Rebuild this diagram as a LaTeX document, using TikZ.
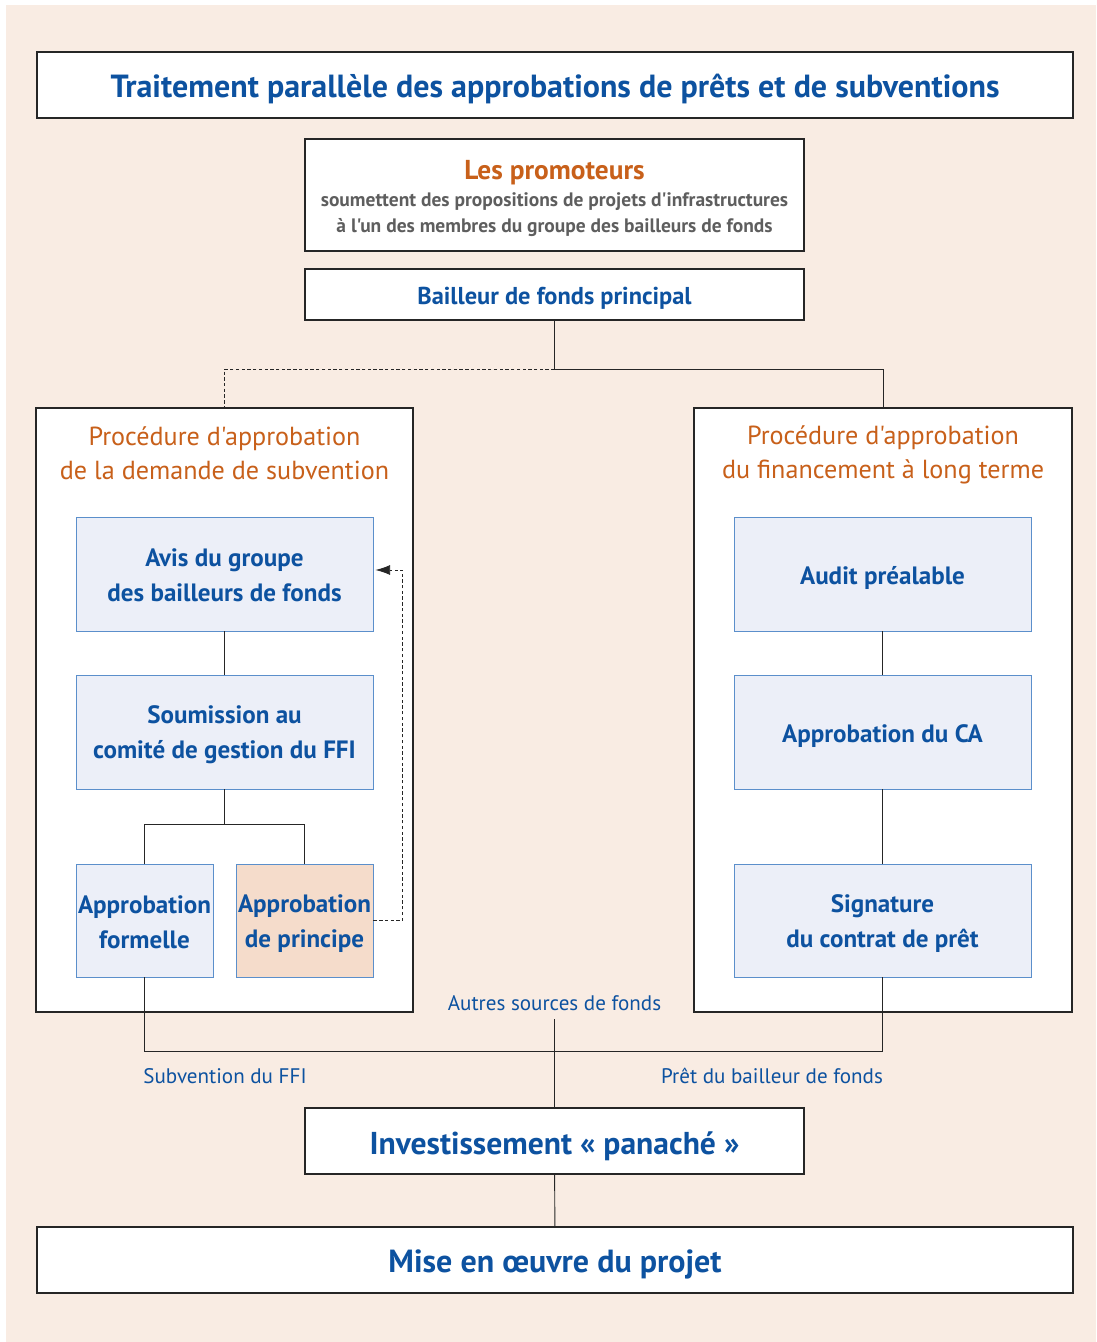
\documentclass[tikz,border=0pt]{standalone}
\usepackage{fontspec}
\setmainfont{PT Sans}[Ligatures=TeXOff]
\usetikzlibrary{arrows.meta}
\definecolor{fondbeige}{HTML}{F9ECE3}
\definecolor{bleutexte}{HTML}{0D52A0}
\definecolor{orangetexte}{HTML}{C8601A}
\definecolor{grisbleu}{HTML}{5E5E5E}
\definecolor{bleupale}{HTML}{ECEFF8}
\definecolor{bleucadre}{HTML}{5B8FCB}
\definecolor{peche}{HTML}{F5DCCB}
\tikzset{
  cadre/.style={draw=black!85,line width=0.9pt,fill=white,inner sep=0pt},
  etape/.style={draw=bleucadre,line width=0.7pt,fill=bleupale,inner sep=0pt},
  etapetexte/.style={text=bleutexte,align=center,inner sep=0pt,
    font=\bfseries\fontsize{18.8}{26}\selectfont},
  procedure/.style={text=orangetexte,align=center,font=\fontsize{19.6}{25.5}\selectfont},
  flux/.style={text=bleutexte,font=\fontsize{15.8}{19}\selectfont},
  lien/.style={draw=black!85,line width=0.7pt},
  pointille/.style={lien,line width=0.6pt,dash pattern=on 2.5pt off 1.8pt},
}
\begin{document}
\begin{tikzpicture}[x=0.75pt,y=-0.75pt]
\useasboundingbox (0,0) rectangle (1096,1342);
\fill[fondbeige] (6,5) rectangle (1096,1342);
% en-tete
\node[cadre,minimum width=777pt,minimum height=49.5pt] (titre) at (555,85) {};
\node[text=bleutexte,font=\bfseries\fontsize{24}{28}\selectfont] (titretexte) at (555,89)
  {Traitement parallèle des approbations de prêts et de subventions};
\node[cadre,minimum width=374.25pt,minimum height=84pt] (promo) at (554.5,195) {};
\node[text=orangetexte,font=\bfseries\fontsize{20.5}{24}\selectfont] (promotitre) at (554.5,173) {Les promoteurs};
\node[text=grisbleu,align=center,font=\bfseries\fontsize{14.6}{19.5}\selectfont] (promotexte) at (554.5,215)
  {soumettent des propositions de projets d'infrastructures\\à l'un des membres du groupe des bailleurs de fonds};
\node[cadre,minimum width=374.25pt,minimum height=38.25pt] (bailleur) at (554.5,294.5) {};
\node[text=bleutexte,font=\bfseries\fontsize{18.3}{22}\selectfont] (bailleurtexte) at (554.5,298.5) {Bailleur de fonds principal};
% les deux procedures
\node[cadre,minimum width=282.75pt,minimum height=453pt] (gauche) at (224.5,710) {};
\node[cadre,minimum width=283.5pt,minimum height=453pt] (droite) at (883,710) {};
\node[procedure] (gauchetitre) at (224.5,453) {Procédure d'approbation\\de la demande de subvention};
\node[procedure] (droitetitre) at (883,455) {Procédure d'approbation\\du financement à long terme};
\coordinate (fourche) at (554.5,369);
\draw[lien] (bailleur) -- (fourche) -| (droite.north);
\draw[pointille] (fourche) -| (gauche.north);
% subvention
\node[etape,minimum width=222.75pt,minimum height=85.5pt] (avis) at (224.5,574) {};
\node[etape,minimum width=222.75pt,minimum height=85.5pt] (soumission) at (224.5,732) {};
\node[etape,minimum width=102.75pt,minimum height=84.75pt] (formelle) at (144.5,920.5) {};
\node[etape,fill=peche,minimum width=102.75pt,minimum height=84.75pt] (principe) at (304.5,920.5) {};
\node[etapetexte] (avistexte) at (224.5,575.5) {Avis du groupe\\des bailleurs de fonds};
\node[etapetexte] (soumissiontexte) at (224.5,735) {Soumission au\\comité de gestion du FFI};
\node[etapetexte] (formelletexte) at (144.5,922.5) {Approbation\\formelle};
\node[etapetexte] (principetexte) at (304.5,923.5) {Approbation\\de principe};
\draw[lien] (avis) -- (soumission);
\draw[lien] (soumission.south) -- ++(0,35) coordinate (branche);
\draw[lien] (formelle.north) |- (branche) -| (principe.north);
\draw[pointille,-{Latex[length=11pt,width=7.5pt]}]
  (principe.east) -- ++(29,0) |- ([shift={(2,-4)}]avis.east);
% pret
\node[etape,minimum width=222.75pt,minimum height=85.5pt] (audit) at (882.5,574) {};
\node[etape,minimum width=222.75pt,minimum height=85.5pt] (ca) at (882.5,732) {};
\node[etape,minimum width=222.75pt,minimum height=84.75pt] (signature) at (882.5,920.5) {};
\node[etapetexte] (audittexte) at (882.5,578) {Audit préalable};
\node[etapetexte] (catexte) at (882.5,736) {Approbation du CA};
\node[etapetexte] (signaturetexte) at (882.5,923.5) {Signature\\du contrat de prêt};
\draw[lien] (audit) -- (ca) -- (signature);
% sources de fonds
\node[flux] (autres) at (554.5,1003) {Autres sources de fonds};
\node[flux] (subvention) at (225,1076) {Subvention du FFI};
\node[flux] (pret) at (772,1076) {Prêt du bailleur de fonds};
\coordinate (jonction) at (554.5,1051);
\draw[lien] (formelle.south) |- (jonction) -| (signature.south);
\node[cadre,minimum width=374.25pt,minimum height=49.5pt] (invest) at (554.5,1141) {};
\node[text=bleutexte,font=\bfseries\fontsize{23.7}{28}\selectfont] (investtexte) at (554.5,1146) {Investissement « panaché »};
\node[cadre,minimum width=777pt,minimum height=49.5pt] (mise) at (555,1260) {};
\node[text=bleutexte,font=\bfseries\fontsize{24}{28}\selectfont] (misetexte) at (555,1264) {Mise en œuvre du projet};
\draw[lien] ([yshift=-3pt]autres.south) -- (invest.north);
\draw[lien] (invest) -- (mise);
\end{tikzpicture}
\end{document}
